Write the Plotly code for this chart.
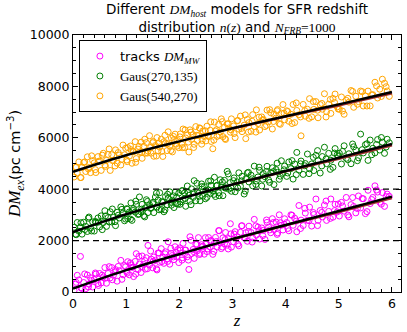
import plotly.graph_objects as go

# redshift of each simulated FRB (shared by the three host models)
z = [0.02, 0.05, 0.08, 0.11, 0.14, 0.17, 0.20, 0.24, 0.27, 0.30, 0.33, 0.37, 0.40, 0.43, 0.47,
     0.50, 0.53, 0.57, 0.60, 0.63, 0.66, 0.70, 0.73, 0.76, 0.80, 0.83, 0.87, 0.90, 0.94, 0.97,
     1.01, 1.03, 1.06, 1.09, 1.11, 1.14, 1.17, 1.19, 1.22, 1.25, 1.28, 1.30, 1.33, 1.36, 1.38, 1.41, 1.44, 1.47,
     1.50, 1.52, 1.55, 1.58, 1.60, 1.63, 1.66, 1.69, 1.71, 1.74, 1.77, 1.79, 1.82, 1.85, 1.87, 1.90, 1.92, 1.95, 1.97, 1.99,
     2.02, 2.05, 2.07, 2.10, 2.12, 2.15, 2.18, 2.20, 2.23, 2.26, 2.28, 2.31, 2.34, 2.36, 2.39, 2.42, 2.44, 2.47,
     2.50, 2.52, 2.55, 2.58, 2.60, 2.63, 2.66, 2.68, 2.71, 2.74, 2.77, 2.79, 2.82, 2.85, 2.87, 2.90, 2.93, 2.96, 2.98,
     3.02, 3.05, 3.09, 3.12, 3.15, 3.18, 3.22, 3.25, 3.28, 3.31, 3.35, 3.38, 3.41, 3.45, 3.48,
     3.51, 3.55, 3.58, 3.61, 3.65, 3.68, 3.72, 3.75, 3.78, 3.82, 3.85, 3.88, 3.92, 3.95, 3.98,
     4.02, 4.06, 4.10, 4.14, 4.17, 4.21, 4.25, 4.29, 4.33, 4.37, 4.41, 4.45, 4.49, 4.53, 4.57,
     4.61, 4.65, 4.69, 4.73, 4.77, 4.81, 4.85, 4.89, 4.93, 4.97,
     5.01, 5.05, 5.10, 5.14, 5.19, 5.23, 5.28, 5.32, 5.37, 5.41, 5.46, 5.50, 5.55, 5.59, 5.64,
     5.68, 5.73, 5.77, 5.82, 5.86, 5.91, 5.95,
     # second batch
     0.06, 0.15, 0.22, 0.29, 0.35, 0.42, 0.48, 0.55, 0.61, 0.68, 0.74, 0.79, 0.85, 0.92, 0.99,
     1.02, 1.08, 1.13, 1.18, 1.24, 1.29, 1.35, 1.40, 1.46, 1.51, 1.57, 1.62, 1.67, 1.73, 1.78, 1.84, 1.89, 1.94,
     2.01, 2.06, 2.11, 2.17, 2.22, 2.27, 2.33, 2.38, 2.43, 2.49, 2.54, 2.59, 2.65, 2.70, 2.75, 2.81, 2.86, 2.92, 2.97,
     3.03, 3.10, 3.17, 3.24, 3.30, 3.37, 3.44, 3.50, 3.57, 3.64, 3.70, 3.77, 3.84, 3.90, 3.97,
     4.04, 4.12, 4.20, 4.28, 4.36, 4.44, 4.52, 4.60, 4.68, 4.76, 4.84, 4.92, 4.99,
     5.07, 5.17, 5.26, 5.35, 5.44, 5.53, 5.62, 5.71, 5.80, 5.89]

dm_mw = [55, 307, 649, 471, 1384, 136, 368, 128, 660, 312, 554, 194, 486, 698, 328,
         720, 351, 589, 950, 341, 722, 550, 951, 652, 870, 421, 829, 1230, 668, 1029,
         796, 1179, 668, 1058, 960, 600, 1189, 1492, 871, 1090, 759, 1402, 1071, 890, 1333, 1812, 1052, 1281,
         940, 1362, 1240, 858, 1520, 1158, 1686, 1344, 1116, 1564, 1292, 1954, 1082, 1500, 1422, 1260, 1762, 1380, 1652, 1144,
         1632, 1240, 1892, 1490, 1632, 1370, 878, 2150, 1498, 1656, 1308, 1856, 1604, 2116, 1504, 1842, 1784, 1472,
         1860, 1572, 2119, 1756, 2008, 1465, 1903, 2124, 1752, 2389, 1907, 1688, 2106, 1883, 2315, 1822, 2079, 2657, 1748,
         1951, 2348, 2150, 1796, 2323, 2579, 2111, 2308, 1974, 2561, 2313, 2109, 2826, 2218, 2524,
         2061, 2493, 2399, 2046, 2708, 2524, 2306, 2853, 2429, 2721, 2298, 3004, 2596, 2413, 2849,
         2701, 2382, 3004, 2596, 2872, 2343, 3365, 2797, 2588, 3070, 2791, 3303, 2565, 3016, 3618,
         2789, 3171, 2923, 3384, 2786, 3137, 3619, 2911, 3412, 3114,
         2956, 3488, 3146, 3678, 2926, 3399, 3327, 3079, 3737, 3270, 3628, 3050, 3958, 3440, 3678,
         4131, 3889, 3491, 3869, 3332, 3810, 3722,
         374, 161, 703, 195, 449, 741, 255, 655, 537, 986, 478, 783, 995, 494, 983,
         733, 1131, 973, 695, 1384, 976, 1224, 906, 1594, 1196, 902, 1512, 1182, 1488, 1188, 1704, 1364, 1534,
         1716, 1336, 1626, 1242, 2012, 1572, 1858, 1458, 1758, 2114, 1673, 1972, 1577, 1966, 2385, 1750, 2039, 1674, 2263,
         2257, 1865, 2574, 2102, 2355, 1944, 2572, 2385, 2194, 2802, 2415, 2704, 2242, 2695, 2634,
         2472, 2985, 2758, 2471, 3254, 2778, 3091, 2584, 3097, 3540, 2864, 3167, 3425,
         3349, 2995, 3676, 3246, 3636, 3127, 3597, 3968, 3418, 3708]

dm_g270 = [2520, 2252, 2704, 2366, 2519, 2251, 2713, 2553, 2355, 2917, 2489, 2729, 2371, 2703, 2883,
           2532, 2963, 2701, 3162, 2553, 2894, 3122, 2723, 2904, 2582, 3103, 2881, 3312, 3070, 2771,
           3244, 2857, 3116, 3466, 2788, 3248, 3107, 3410, 3019, 3698, 3117, 3410, 2969, 3278, 3591, 3090, 3390, 3279,
           3436, 3088, 3696, 3304, 3576, 3864, 3212, 3490, 3122, 3710, 3388, 3650, 3898, 3376, 3568, 3286, 3878, 3686, 3418, 3850,
           3506, 3934, 3596, 3854, 3336, 4124, 3762, 3534, 4012, 3680, 4332, 3550, 3938, 3840, 3548, 4206, 3728, 4096,
           3961, 3683, 4310, 3837, 4159, 3936, 4464, 3715, 4153, 3860, 4368, 4089, 3747, 4344, 4046, 4693, 4000, 4258, 3919,
           4333, 3900, 4282, 4638, 4115, 4501, 3813, 4400, 4636, 4283, 4545, 4131, 4898, 4320, 4476,
           4733, 4125, 4611, 4488, 4890, 4356, 4638, 4835, 4181, 4763, 4660, 4386, 5108, 4615, 4901,
           4499, 5060, 4802, 4394, 4980, 5431, 4743, 5095, 4576, 4998, 5369, 4791, 4983, 4724, 5316,
           5107, 4629, 5271, 5632, 4994, 5395, 5127, 4849, 5580, 5342,
           5399, 4981, 5689, 5201, 5379, 4992, 5650, 5522, 5220, 6143, 5411, 5733, 5121, 5913, 5591,
           5414, 5932, 5524, 5832, 5395, 5943, 5805,
           2229, 2696, 2428, 2870, 2374, 2746, 2720, 2427, 2959, 2728, 3230, 2735, 2987, 3216, 2835,
           3221, 2839, 3171, 3533, 3032, 3224, 2922, 3524, 3252, 3492, 3848, 3198, 3518, 3194, 3804, 3490, 3740, 3440,
           3410, 3950, 3640, 3876, 3396, 3866, 4232, 3722, 4102, 3628, 3974, 4323, 3798, 4127, 3746, 4281, 4050, 4595, 4064,
           4439, 4047, 4326, 3924, 4657, 4406, 4184, 4857, 4386, 4694, 4267, 4686, 5014, 4507, 4756,
           4630, 5113, 4566, 4989, 4912, 4606, 5239, 5502, 4905, 5178, 4772, 5405, 5273,
           5472, 5148, 5759, 5109, 5539, 5770, 5340, 5741, 6011, 5641]

dm_g540 = [4475, 4847, 4629, 5061, 4454, 4846, 5038, 4688, 5260, 4842, 4644, 5114, 5026, 4648, 5268,
           5100, 4731, 5399, 4940, 5121, 5352, 4730, 5341, 5122, 5530, 5011, 5329, 4940, 5718, 5339,
           5136, 5619, 5288, 5538, 5010, 5460, 5849, 5192, 5561, 5440, 5829, 5202, 5671, 5400, 5813, 5482, 6082, 5401,
           5810, 5282, 5700, 6008, 5490, 5638, 5946, 5274, 5846, 5784, 5502, 6234, 5682, 5990, 5452, 5930, 6142, 5670, 5892, 5614,
           6152, 5740, 6342, 5620, 5992, 6120, 5448, 6310, 5938, 6116, 5748, 6436, 5894, 6086, 6364, 5752, 6264, 6052,
           5880, 6452, 6049, 6296, 5858, 5575, 6613, 6264, 6052, 6519, 6227, 6738, 6046, 6403, 5935, 6542, 6379, 6217, 6738,
           6461, 6008, 6660, 6336, 6843, 6239, 6491, 5968, 6714, 6591, 6253, 6899, 6436, 7088, 6554,
           6301, 6813, 6719, 6436, 7078, 6624, 6976, 6343, 6909, 6771, 7098, 6554, 6956, 7293, 6699,
           7051, 6642, 6914, 7296, 6592, 7063, 6895, 6077, 7298, 6840, 7111, 7523, 6815, 7106, 7408,
           6779, 7291, 7113, 7714, 7016, 7307, 6949, 7531, 7702, 7204,
           7116, 7588, 6916, 7458, 7386, 7839, 7187, 7619, 7407, 7820, 7238, 7630, 7818, 7240, 7678,
           8161, 7549, 7891, 8279, 8122, 7820, 7612,
           4864, 4451, 5063, 4785, 5299, 4761, 5075, 5325, 4887, 5566, 5118, 4903, 5425, 5164, 5593,
           5073, 5681, 5463, 5045, 5664, 5426, 5944, 5406, 5624, 5856, 5292, 5792, 5472, 6098, 5768, 5504, 6054, 5754,
           6036, 5616, 6306, 5832, 6222, 5622, 6098, 6388, 5898, 6274, 6093, 6622, 5907, 6316, 6095, 6630, 5969, 6544, 6313,
           6167, 6675, 6364, 6892, 6225, 6644, 6222, 6805, 6684, 6482, 7095, 6634, 7052, 6525, 6954,
           7022, 6555, 7358, 6811, 7054, 6758, 7411, 7074, 7337, 6810, 7494, 7377, 7115,
           7039, 7535, 7806, 7306, 7796, 7237, 7667, 8018, 7608, 7988]

# fitted mean relations (black curves)
z_fit = [0, 0.5, 1, 1.5, 2, 2.5, 3, 3.5, 4, 4.5, 5, 5.5, 6]
fit_mw = [130, 500, 850, 1170, 1470, 1770, 2060, 2335, 2610, 2880, 3150, 3430, 3710]
fit_g270 = [2330, 2688, 3025, 3333, 3620, 3908, 4185, 4448, 4710, 4968, 5225, 5493, 5760]
fit_g540 = [4680, 5010, 5320, 5600, 5860, 6120, 6370, 6605, 6840, 7070, 7300, 7540, 7780]

# input model curves peeking out under the fits at high z
z_mod = [3, 4, 5, 6]
mod_mw = [2055, 2595, 3115, 3660]
mod_g270 = [4180, 4695, 5185, 5710]
mod_g540 = [6365, 6825, 7260, 7730]

ref_levels = [2000, 4000]

SERIF = "font-family:'Liberation Serif'"
names = ["tracks <span style=\"%s\"><i>DM</i><sub><i>MW</i></sub></span>" % SERIF,
         "<span style=\"%s\">Gaus(270,135)</span>" % SERIF,
         "<span style=\"%s\">Gaus(540,270)</span>" % SERIF]
colors = ["#ff00ff", "#008000", "#ffa500"]

fig = go.Figure()
for dm, name, col in zip([dm_mw, dm_g270, dm_g540], names, colors):
    fig.add_trace(go.Scatter(x=z, y=dm, mode="markers", name=name,
                             marker=dict(symbol="circle-open", size=6, color=col, line=dict(width=1))))

for mod in [mod_mw, mod_g270, mod_g540]:
    fig.add_trace(go.Scatter(x=z_mod, y=mod, mode="lines", showlegend=False,
                             line=dict(color="#a03030", width=2.5, shape="spline")))
for fit in [fit_mw, fit_g270, fit_g540]:
    fig.add_trace(go.Scatter(x=z_fit, y=fit, mode="lines", showlegend=False,
                             line=dict(color="black", width=2.5, shape="spline")))

for lev in ref_levels:
    fig.add_hline(y=lev, line=dict(color="black", width=1.2, dash="6px,4px"))

axis_common = dict(showline=True, linecolor="black", linewidth=1, mirror="allticks",
                   ticks="inside", ticklen=5, tickcolor="black", showgrid=False, zeroline=False,
                   automargin=False, tickformat="d",
                   tickfont=dict(size=12.5, color="black"))

fig.update_xaxes(range=[0, 6.17], dtick=1, tick0=0,
                 minor=dict(dtick=0.2, ticks="inside", ticklen=3, tickcolor="black"),
                 title=dict(text="<span style=\"%s\"><i>z</i></span>" % SERIF, font=dict(size=17), standoff=0),
                 **axis_common)
fig.update_yaxes(range=[0, 10000], dtick=2000, tick0=0,
                 minor=dict(dtick=500, ticks="inside", ticklen=3, tickcolor="black"),
                 title=dict(text="<span style=\"%s;font-size:17px\"><i>DM</i><sub><i>ex</i></sub></span>"
                                 "(pc cm<sup>\u22123</sup>)" % SERIF,
                            font=dict(size=14.5), standoff=5),
                 **axis_common)

fig.update_layout(
    width=407, height=332,
    margin=dict(l=73, r=6, t=35, b=40),
    paper_bgcolor="white", plot_bgcolor="white",
    font=dict(family="DejaVu Sans", color="black"),
    title=dict(text="Different <span style=\"%s\"><i>DM</i><sub><i>host</i></sub></span> models for SFR redshift<br>"
                    "distribution <span style=\"%s\"><i>n</i>(<i>z</i>)</span> and "
                    "<span style=\"%s\"><i>N</i><sub><i>FRB</i></sub>=1000</span>" % (SERIF, SERIF, SERIF),
               font=dict(size=13.5), x=0.5, xref="paper", xanchor="center",
               y=1, yref="paper", yanchor="bottom", pad=dict(b=21)),
    legend=dict(x=0.018, y=0.98, xanchor="left", yanchor="top", bgcolor="white",
                bordercolor="black", borderwidth=1, font=dict(size=13), tracegroupgap=0),
    showlegend=True,
)

fig.write_html("out.html", config={"displayModeBar": False},
               post_script="document.body.style.margin = '0px';")
